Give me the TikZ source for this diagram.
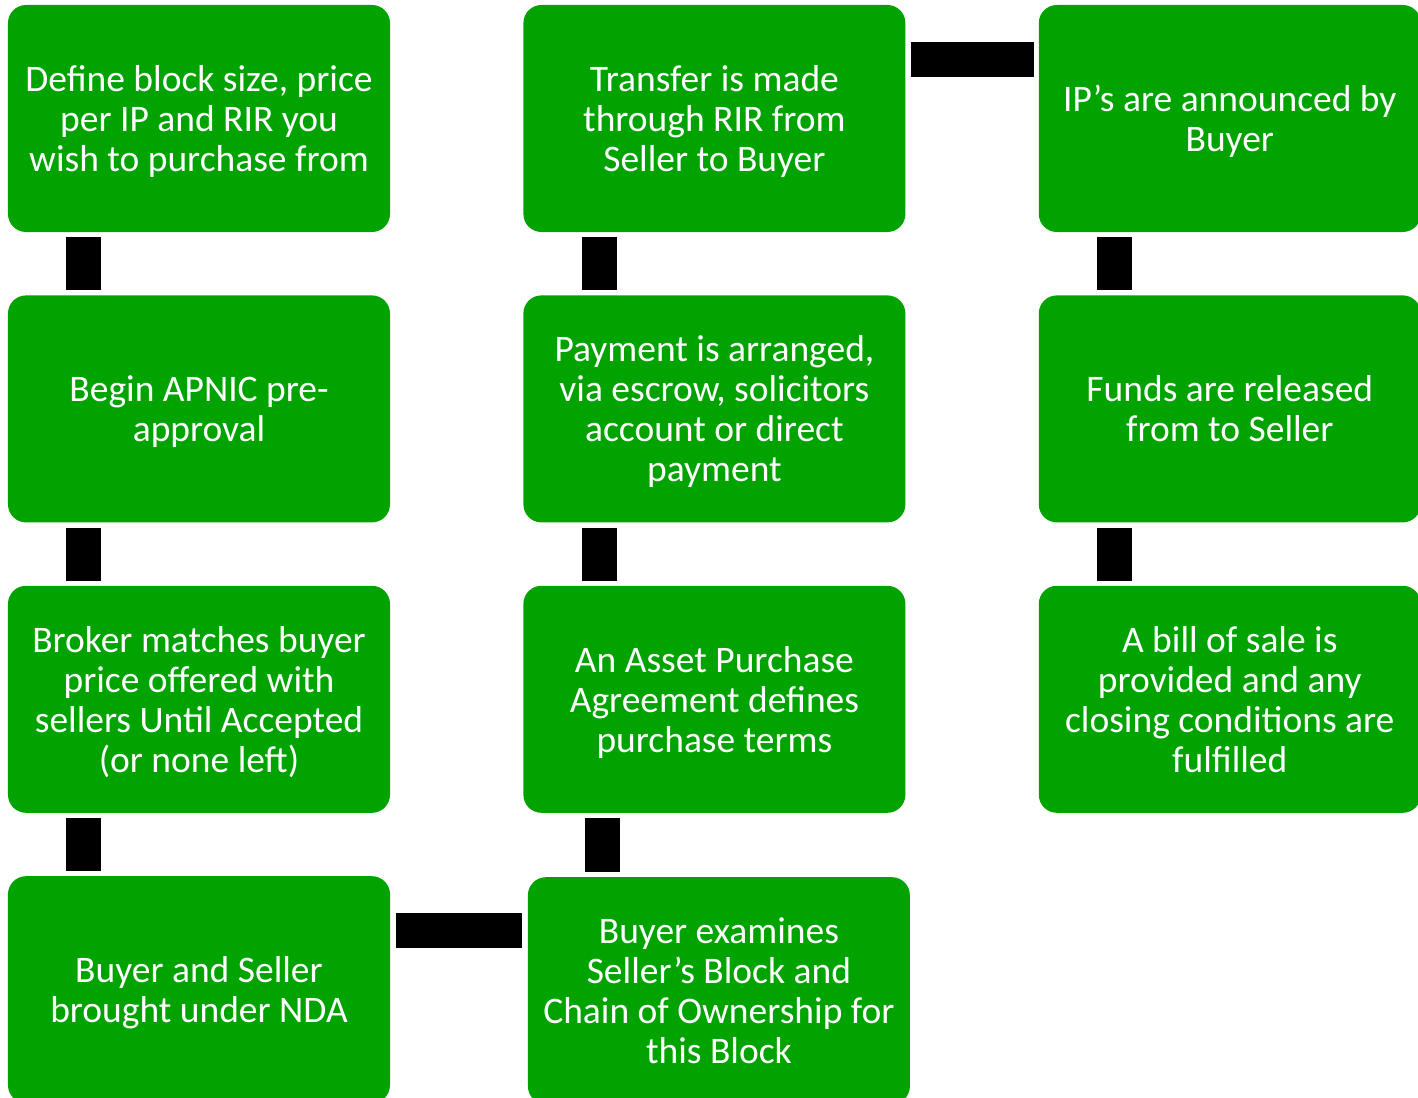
\documentclass[tikz,border=0pt]{standalone}
\usepackage{fontspec}
\setmainfont{Carlito}
\usepackage{tikz}
\usetikzlibrary{positioning}
\definecolor{StepGreen}{HTML}{00A300}

\begin{document}
\begin{tikzpicture}[
		node distance=63bp and 133bp,
		stepbox/.style={fill=StepGreen,rounded corners=18bp,align=center,text=white,minimum width=382bp,minimum height=227bp,inner sep=0pt,text depth=0pt,font=\fontsize{37.5bp}{40bp}\selectfont},
		link/.style={line width=35bp,black,shorten <=5bp,shorten >=5bp}
	]
	\useasboundingbox (-199bp,118.5bp) rectangle (1219bp,-979.5bp);
	% buyer side
	\node[stepbox] (define) at (0,0) {Define block size, price\\per IP and RIR you\\wish to purchase from};
	\node[stepbox,below=of define] (preapp) {Begin APNIC pre-\\approval};
	\node[stepbox,below=of preapp] (match) {Broker matches buyer\\price offered with\\sellers Until Accepted\\(or none left)};
	\node[stepbox,below=of match] (nda) {Buyer and Seller\\brought under NDA};
	% agreement and transfer
	\node[stepbox,right=of define] (transfer) {Transfer is made\\through RIR from\\Seller to Buyer};
	\node[stepbox,below=of transfer] (payment) {Payment is arranged,\\via escrow, solicitors\\account or direct\\payment};
	\node[stepbox,below=of payment] (apa) {An Asset Purchase\\Agreement defines\\purchase terms};
	\node[stepbox,below=of apa,xshift=4.5bp,yshift=-1bp] (examine) {Buyer examines\\Seller’s Block and\\Chain of Ownership for\\this Block};
	% closing
	\node[stepbox,right=of transfer] (announce) {IP’s are announced by\\Buyer};
	\node[stepbox,below=of announce] (funds) {Funds are released\\from to Seller};
	\node[stepbox,below=of funds] (sale) {A bill of sale is\\provided and any\\closing conditions are\\fulfilled};
	\draw[link] ([xshift=-115bp]define.south) -- ([xshift=-115bp]preapp.north);
	\draw[link] ([xshift=-115bp]preapp.south) -- ([xshift=-115bp]match.north);
	\draw[link] ([xshift=-115bp]match.south) -- ([xshift=-115bp]nda.north);
	\draw[link,shorten <=6bp,shorten >=6bp] ([yshift=59bp]nda.east) -- ([yshift=59bp]nda.east -| examine.west);
	\draw[link] ([xshift=-112bp]apa.south) -- ([xshift=-112bp]apa.south |- examine.north);
	\draw[link] ([xshift=-115bp]apa.north) -- ([xshift=-115bp]payment.south);
	\draw[link] ([xshift=-115bp]payment.north) -- ([xshift=-115bp]transfer.south);
	\draw[link] ([yshift=59bp]transfer.east) -- ([yshift=59bp]announce.west);
	\draw[link] ([xshift=-115bp]announce.south) -- ([xshift=-115bp]funds.north);
	\draw[link] ([xshift=-115bp]funds.south) -- ([xshift=-115bp]sale.north);
\end{tikzpicture}
\end{document}
